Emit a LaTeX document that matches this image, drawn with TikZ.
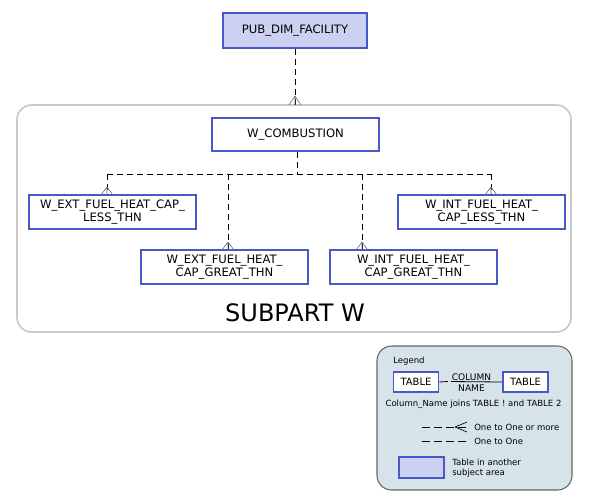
\documentclass[tikz,border=0pt]{standalone}
\usepackage{fontspec}
\setmainfont{DejaVu Sans}
\usetikzlibrary{patterns}
\definecolor{tblue}{HTML}{4858C8}
\definecolor{hatchfill}{HTML}{C8CCF0}
\definecolor{hatchline}{HTML}{DDE0F8}
\definecolor{legfill}{HTML}{D6E4EA}
\definecolor{contgray}{HTML}{C8C8C8}
\tikzset{
  tbl/.style={draw=tblue, line width=1.3pt, fill=white, inner sep=0pt, align=center, font=\fontsize{8.7}{10}\selectfont},
  ext/.style={tbl, preaction={fill=hatchfill}, pattern=north east lines, pattern color=hatchline},
  conn/.style={draw=black, line width=0.6pt, dash pattern=on 4.5pt off 3pt},
  crow/.style={draw=gray!90!black, line width=0.5pt},
  legtext/.style={font=\fontsize{6.4}{7.6}\selectfont, inner sep=0pt}
}
\begin{document}
\begin{tikzpicture}[x=0.75pt,y=-0.75pt]
\useasboundingbox (0,0) rectangle (591,501);
% container
\draw[contgray, line width=1.2pt, rounded corners=11pt] (17,105) rectangle (571,332);
\node[font=\fontsize{18}{20}\selectfont, inner sep=0pt] (sub) at (295,313) {SUBPART W};
% nodes
\node[ext, minimum width=108pt, minimum height=26pt] (pub) at (295,30.5) {PUB\_DIM\_FACILITY};
\node[tbl, minimum width=125pt, minimum height=25pt] (comb) at (295.5,134.5) {W\_COMBUSTION};
\node[tbl, minimum width=125pt, minimum height=25.5pt] (el) at (112.5,212) {W\_EXT\_FUEL\_HEAT\_CAP\_\\LESS\_THN};
\node[tbl, minimum width=125pt, minimum height=25.5pt] (eg) at (224.5,267) {W\_EXT\_FUEL\_HEAT\_\\CAP\_GREAT\_THN};
\node[tbl, minimum width=125pt, minimum height=25.5pt] (ig) at (413.5,267) {W\_INT\_FUEL\_HEAT\_\\CAP\_GREAT\_THN};
\node[tbl, minimum width=125pt, minimum height=25.5pt] (il) at (481.5,212) {W\_INT\_FUEL\_HEAT\_\\CAP\_LESS\_THN};
% top connector to container
\coordinate (ctop) at (295,105);
\draw[conn] (pub.south) -- (ctop);
\draw[crow] (295,96) -- (289,105) (295,96) -- (301,105) (295,96) -- (295,105);
% fan connectors
\coordinate (j) at (297,174);
\draw[conn] (comb.south -| j) -- (j);
\draw[conn] (107,174) -- (491,174);
\draw[conn] (107,174) -- (el.north -| 107,0);
\draw[conn] (228,174) -- (eg.north -| 228,0);
\draw[conn] (362,174) -- (ig.north -| 362,0);
\draw[conn] (491,174) -- (il.north -| 491,0);
\foreach \x/\y in {107/195, 228/250, 362/250, 491/195}{
  \draw[crow] (\x,\y-8) -- (\x-6,\y) (\x,\y-8) -- (\x+6,\y) (\x,\y-8) -- (\x,\y);
}
% legend
\draw[gray!80!black, line width=0.8pt, fill=legfill, rounded corners=11pt] (377,346) rectangle (572,490);
\node[legtext, anchor=west] (lg) at (393,361) {Legend};
\node[tbl, line width=1.1pt, minimum width=34pt, minimum height=15pt, font=\fontsize{7.5}{8}\selectfont] (t1) at (416,382) {TABLE};
\node[tbl, line width=1.1pt, minimum width=34pt, minimum height=15pt, font=\fontsize{7.5}{8}\selectfont] (t2) at (525.5,382) {TABLE};
\node[legtext, font=\fontsize{6.8}{8}\selectfont] (cn1) at (471.5,377) {COLUMN};
\node[legtext, font=\fontsize{6.8}{8}\selectfont] (cn2) at (471.5,388) {NAME};
\draw[line width=0.6pt] (t1.east) -- (448,381.5);
\draw[line width=0.6pt] (451,381.5) -- (t2.west);
\node[legtext] (jn) at (473.5,404) {Column\_Name joins TABLE ! and TABLE 2};
\coordinate (a1) at (422,427);
\coordinate (a2) at (467,427);
\draw[line width=0.6pt, dash pattern=on 6pt off 3pt] (a1) -- (a2);
\draw[line width=0.5pt] (455,427) -- (467,422) (455,427) -- (467,432);
\node[legtext, anchor=west] (o1) at (474,427) {One to One or more};
\coordinate (b1) at (422,441);
\coordinate (b2) at (467,441);
\draw[line width=0.6pt, dash pattern=on 6pt off 3pt] (b1) -- (b2);
\node[legtext, anchor=west] (o2) at (474,441) {One to One};
\node[ext, line width=1.1pt, minimum width=33.5pt, minimum height=15.5pt] (hb) at (421.5,467.5) {};
\node[legtext, anchor=west, align=left] (ta) at (452,468) {Table in another\\subject area};
\end{tikzpicture}
\end{document}
